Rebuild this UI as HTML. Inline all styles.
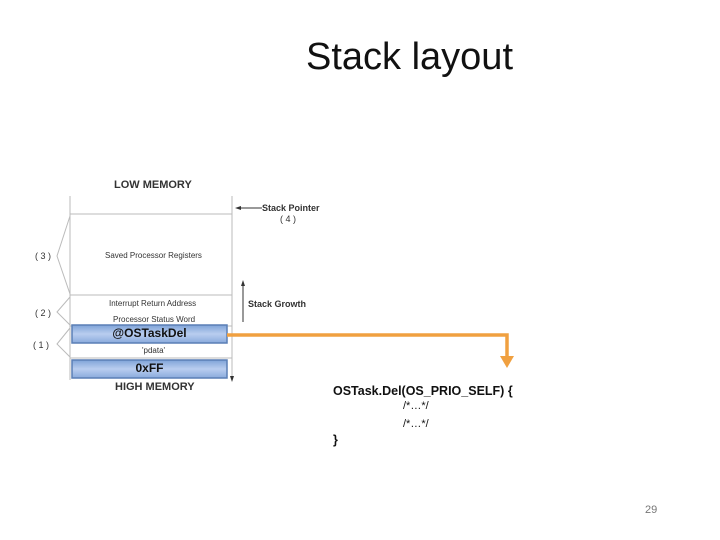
<!DOCTYPE html>
<html><head><style>
body{margin:0;width:720px;height:540px;background:#fff;position:relative;overflow:hidden;font-family:"Liberation Sans",sans-serif}
.t{position:absolute;white-space:nowrap}
</style></head><body>
<div class="t" style="left:306px;top:36px;font-size:38px;color:#111">Stack layout</div>
<svg width="720" height="540" style="position:absolute;left:0;top:0">
<defs><linearGradient id="g" x1="0" y1="0" x2="0" y2="1"><stop offset="0" stop-color="#7fa3d8"/><stop offset="0.5" stop-color="#b9cdef"/><stop offset="1" stop-color="#8aaadc"/></linearGradient></defs>
<g stroke="#bbb" fill="none" stroke-width="1">
<line x1="70" y1="196" x2="70" y2="380"/>
<line x1="232" y1="196" x2="232" y2="376"/>
<line x1="70" y1="214" x2="232" y2="214"/>
<line x1="70" y1="295" x2="232" y2="295"/>
<line x1="70" y1="326" x2="232" y2="326"/>
<line x1="70" y1="358" x2="232" y2="358"/>
<polyline points="70,216 57,256 70,294"/>
<polyline points="70,297 57,312 70,325"/>
<polyline points="70,328 57,344 70,357"/>
</g>
<g stroke="#333" stroke-width="1">
<line x1="240" y1="208" x2="262" y2="208"/>
<line x1="243" y1="285" x2="243" y2="322"/>
</g>
<polygon points="235,208 241,206 241,210" fill="#333"/>
<polygon points="243,280 241,286 245,286" fill="#333"/>
<polygon points="232,382 230,376 234,376" fill="#333"/>
<rect x="72" y="325" width="155" height="18" fill="url(#g)" stroke="#5a7fb5" stroke-width="1.5"/>
<rect x="72" y="360" width="155" height="18" fill="url(#g)" stroke="#5a7fb5" stroke-width="1.5"/>
<polyline points="227,335 507,335 507,358" fill="none" stroke="#f0a040" stroke-width="3.5"/>
<polygon points="500,356 514,356 507,368" fill="#f0a040"/>
</svg>
<div class="t" style="left:114px;top:179px;font-size:11px;font-weight:bold;color:#333">LOW MEMORY</div>
<div class="t" style="left:262px;top:203px;font-size:9px;font-weight:bold;color:#333">Stack Pointer</div>
<div class="t" style="left:280px;top:214px;font-size:9px;color:#333">( 4 )</div>
<div class="t" style="left:35px;top:251px;font-size:9px;color:#333">( 3 )</div>
<div class="t" style="left:105px;top:251px;font-size:8px;color:#333">Saved Processor Registers</div>
<div class="t" style="left:109px;top:299px;font-size:8px;color:#333">Interrupt Return Address</div>
<div class="t" style="left:248px;top:299px;font-size:9px;font-weight:bold;color:#333">Stack Growth</div>
<div class="t" style="left:35px;top:308px;font-size:9px;color:#333">( 2 )</div>
<div class="t" style="left:113px;top:315px;font-size:8px;color:#333">Processor Status Word</div>
<div class="t" style="left:33px;top:340px;font-size:9px;color:#333">( 1 )</div>
<div class="t" style="left:72px;width:155px;text-align:center;top:326px;font-size:12px;font-weight:bold;color:#111">@OSTaskDel</div>
<div class="t" style="left:142px;top:346px;font-size:8px;color:#333">'pdata'</div>
<div class="t" style="left:72px;width:155px;text-align:center;top:361px;font-size:12px;font-weight:bold;color:#111">0xFF</div>
<div class="t" style="left:115px;top:381px;font-size:11px;font-weight:bold;color:#333">HIGH MEMORY</div>
<div class="t" style="left:333px;top:384px;font-size:12.5px;font-weight:bold;color:#111">OSTask.Del(OS_PRIO_SELF) {</div>
<div class="t" style="left:403px;top:400px;font-size:11px;color:#111">/*…*/</div>
<div class="t" style="left:403px;top:418px;font-size:11px;color:#111">/*…*/</div>
<div class="t" style="left:333px;top:433px;font-size:12.5px;font-weight:bold;color:#111">}</div>
<div class="t" style="left:645px;top:504px;font-size:11px;color:#777">29</div>
</body></html>
